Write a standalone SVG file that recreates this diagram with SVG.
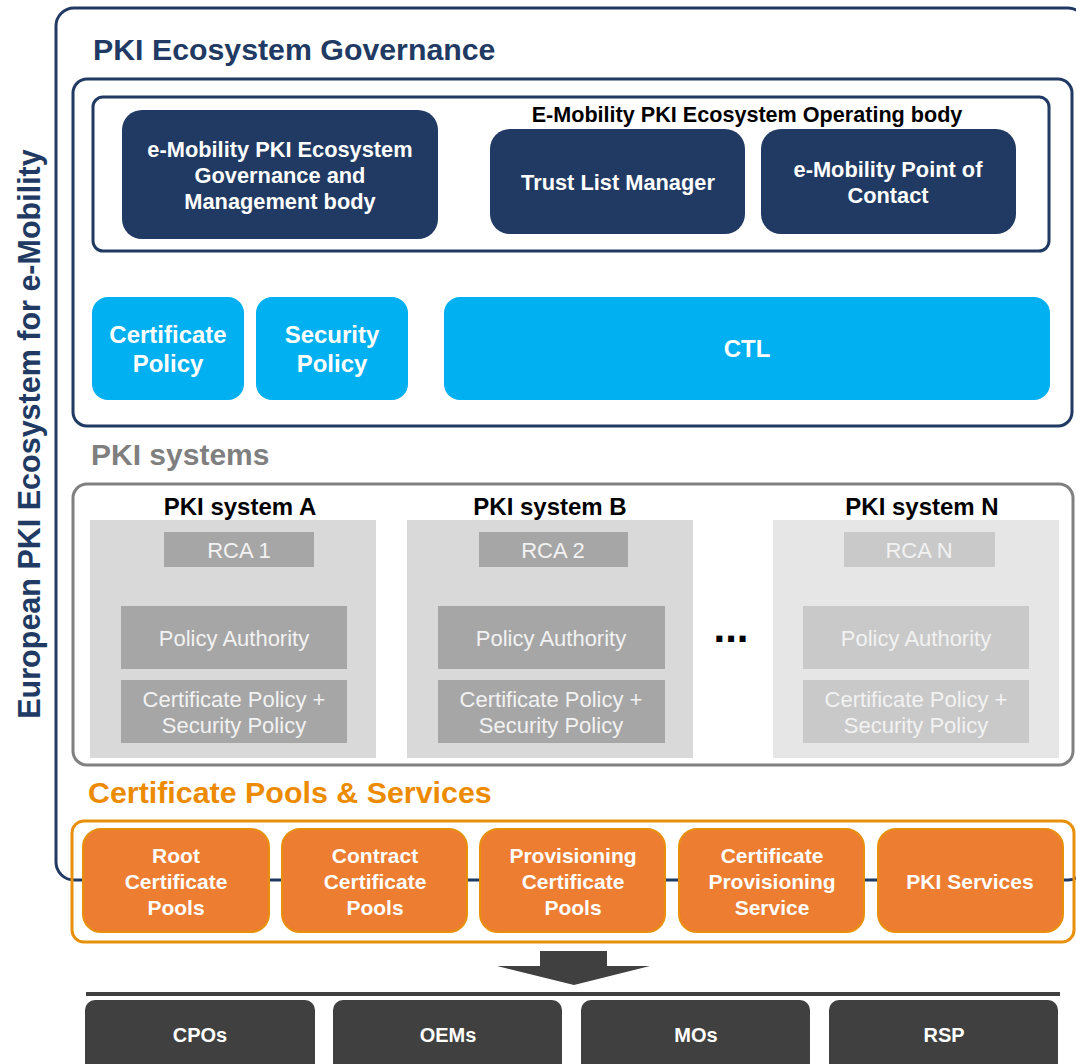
<svg xmlns="http://www.w3.org/2000/svg" width="1076" height="1064" viewBox="0 0 1076 1064">
<style>
text{font-family:"Liberation Sans",Arial,sans-serif;text-anchor:middle}
.b{font-weight:bold}
.navy{fill:#213a63}
.nv{fill:#213a63;stroke:none}
.wt{fill:#fff;font-weight:bold;font-size:21.8px}
.lb{fill:#00b0f0}
.lbt{fill:#fff;font-weight:bold;font-size:24px}
.sysbg{fill:#d9d9d9}
.gbox{fill:#a6a6a6}
.gt{fill:#f2f2f2;font-size:22px}
.or{fill:#ed7d31;stroke:#e8900c;stroke-width:2}
.ot{fill:#fff;font-weight:bold;font-size:21px}
.dk{fill:#404040}
.dt{fill:#fff;font-weight:bold;font-size:20px}
</style>
<rect width="1076" height="1064" fill="#fff"/>
<g id="ecosystem">
<rect x="56" y="8" width="1030" height="872" rx="18" fill="none" stroke="#213a63" stroke-width="3"/>
<text class="b navy" font-size="30.5" transform="translate(40,434) rotate(-90)">European PKI Ecosystem for e-Mobility</text>
</g>
<g id="governance">
<text class="b navy" x="93" y="60" font-size="30.3" style="text-anchor:start">PKI Ecosystem Governance</text>
<rect x="73" y="79" width="999" height="347" rx="14" fill="#fff" stroke="#213a63" stroke-width="3"/>
<rect x="93" y="97" width="956" height="154" rx="10" fill="none" stroke="#213a63" stroke-width="3"/>
<text class="b" x="747" y="122" font-size="21.6" fill="#000">E-Mobility PKI Ecosystem Operating body</text>
</g>
<g id="gov-body">
<rect class="nv" x="122" y="110" width="316" height="129" rx="20"/>
<text class="wt" x="280" y="157">e-Mobility PKI Ecosystem</text>
<text class="wt" x="280" y="183">Governance and</text>
<text class="wt" x="280" y="209">Management body</text>
</g>
<g id="trust-list-manager">
<rect class="nv" x="490" y="129" width="255" height="105" rx="20"/>
<text class="wt" x="618" y="190">Trust List Manager</text>
</g>
<g id="point-of-contact">
<rect class="nv" x="761" y="129" width="255" height="105" rx="20"/>
<text class="wt" x="888" y="177">e-Mobility Point of</text>
<text class="wt" x="888" y="203">Contact</text>
</g>
<g id="certificate-policy">
<rect class="lb" x="92" y="297" width="152" height="103" rx="16"/>
<text class="lbt" x="168" y="343">Certificate</text>
<text class="lbt" x="168" y="372">Policy</text>
</g>
<g id="security-policy">
<rect class="lb" x="256" y="297" width="152" height="103" rx="16"/>
<text class="lbt" x="332" y="343">Security</text>
<text class="lbt" x="332" y="372">Policy</text>
</g>
<g id="ctl">
<rect class="lb" x="444" y="297" width="606" height="103" rx="16"/>
<text class="lbt" x="747" y="357">CTL</text>
</g>
<g id="pki-systems">
<text class="b" x="91" y="465" font-size="30" fill="#7f7f7f" style="text-anchor:start">PKI systems</text>
<rect x="73" y="484" width="1000" height="281" rx="14" fill="#fff" stroke="#808080" stroke-width="3"/>
<text x="731" y="642" font-size="42" class="b" fill="#000">...</text>
</g>
<g id="pki-system-a">
<rect class="sysbg" x="90" y="520" width="286" height="238"/>
<text class="b" x="240" y="515" font-size="24" fill="#000">PKI system A</text>
<rect class="gbox" x="164" y="532" width="150" height="35"/>
<text class="gt" x="239" y="558">RCA 1</text>
<rect class="gbox" x="121" y="606" width="226" height="63"/>
<text class="gt" x="234" y="646">Policy Authority</text>
<rect class="gbox" x="121" y="680" width="226" height="63"/>
<text class="gt" x="234" y="707">Certificate Policy +</text>
<text class="gt" x="234" y="733">Security Policy</text>
</g>
<g id="pki-system-b">
<rect class="sysbg" x="407" y="520" width="286" height="238"/>
<text class="b" x="550" y="515" font-size="24" fill="#000">PKI system B</text>
<rect class="gbox" x="479" y="532" width="149" height="35"/>
<text class="gt" x="553" y="558">RCA 2</text>
<rect class="gbox" x="438" y="606" width="227" height="63"/>
<text class="gt" x="551" y="646">Policy Authority</text>
<rect class="gbox" x="438" y="680" width="227" height="63"/>
<text class="gt" x="551" y="707">Certificate Policy +</text>
<text class="gt" x="551" y="733">Security Policy</text>
</g>
<g id="pki-system-n">
<rect x="773" y="520" width="286" height="238" fill="#e6e6e6"/>
<text class="b" x="922" y="515" font-size="24" fill="#000">PKI system N</text>
<rect x="844" y="532" width="151" height="35" fill="#c9c9c9"/>
<text class="gt" x="919" y="558">RCA N</text>
<rect x="803" y="606" width="226" height="63" fill="#c9c9c9"/>
<text class="gt" x="916" y="646">Policy Authority</text>
<rect x="803" y="680" width="226" height="63" fill="#c9c9c9"/>
<text class="gt" x="916" y="707">Certificate Policy +</text>
<text class="gt" x="916" y="733">Security Policy</text>
</g>
<g id="pools">
<text class="b" x="88" y="803" font-size="30.4" fill="#ed8b00" style="text-anchor:start">Certificate Pools &amp; Services</text>
<rect x="72" y="821" width="1002" height="121" rx="12" fill="none" stroke="#e8900c" stroke-width="3"/>
</g>
<g id="root-pools">
<rect class="or" x="83" y="829" width="186" height="103" rx="18"/>
<text class="ot" x="176" y="863">Root</text>
<text class="ot" x="176" y="889">Certificate</text>
<text class="ot" x="176" y="915">Pools</text>
</g>
<g id="contract-pools">
<rect class="or" x="282" y="829" width="185" height="103" rx="18"/>
<text class="ot" x="375" y="863">Contract</text>
<text class="ot" x="375" y="889">Certificate</text>
<text class="ot" x="375" y="915">Pools</text>
</g>
<g id="provisioning-pools">
<rect class="or" x="480" y="829" width="185" height="103" rx="18"/>
<text class="ot" x="573" y="863">Provisioning</text>
<text class="ot" x="573" y="889">Certificate</text>
<text class="ot" x="573" y="915">Pools</text>
</g>
<g id="cert-provisioning-service">
<rect class="or" x="679" y="829" width="185" height="103" rx="18"/>
<text class="ot" x="772" y="863">Certificate</text>
<text class="ot" x="772" y="889">Provisioning</text>
<text class="ot" x="772" y="915">Service</text>
</g>
<g id="pki-services">
<rect class="or" x="878" y="829" width="185" height="103" rx="18"/>
<text class="ot" x="970" y="889">PKI Services</text>
</g>
<g id="connectors">
<polygon points="540,951 607,951 607,966 650,966 574,985 497,966 540,966" fill="#404040"/>
<line x1="86" y1="994" x2="1060" y2="994" stroke="#404040" stroke-width="4"/>
</g>
<g id="cpos">
<rect class="dk" x="85" y="1000" width="230" height="80" rx="10"/>
<text class="dt" x="200" y="1042">CPOs</text>
</g>
<g id="oems">
<rect class="dk" x="333" y="1000" width="229" height="80" rx="10"/>
<text class="dt" x="448" y="1042">OEMs</text>
</g>
<g id="mos">
<rect class="dk" x="581" y="1000" width="229" height="80" rx="10"/>
<text class="dt" x="696" y="1042">MOs</text>
</g>
<g id="rsp">
<rect class="dk" x="829" y="1000" width="229" height="80" rx="10"/>
<text class="dt" x="944" y="1042">RSP</text>
</g>
</svg>
